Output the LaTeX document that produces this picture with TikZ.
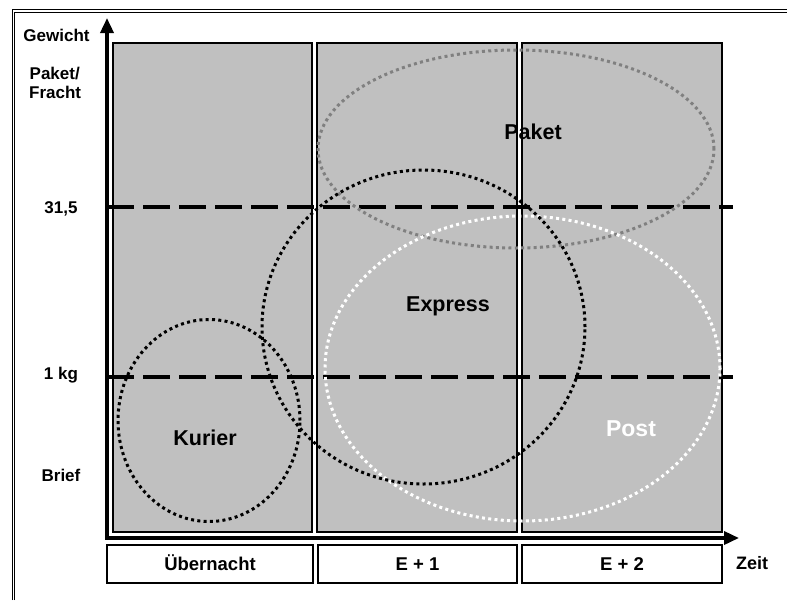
\documentclass[tikz,border=0pt]{standalone}
\usepackage{fontspec}
\setmainfont{Liberation Sans}
\usetikzlibrary{arrows.meta,shapes.geometric}
\definecolor{panelgray}{HTML}{C0C0C0}
\definecolor{zonegray}{HTML}{808080}

\begin{document}
\begin{tikzpicture}[x=1pt,y=-1pt,
  panel/.style={draw=black,line width=1.4pt,fill=panelgray,inner sep=0pt,outer sep=0pt},
  timebox/.style={draw=black,line width=1.4pt,fill=white,inner sep=0pt,outer sep=0pt,
    minimum height=38pt,font=\fontsize{18.5}{22}\selectfont\bfseries,text height=13.2pt,text depth=0pt},
  axis/.style={line width=3.5pt,line join=miter,
    {Triangle[length=15pt,width=13pt]}-{Triangle[length=15pt,width=13pt]}},
  limit/.style={line width=4.2pt,dash pattern=on 27pt off 9pt},
  zone/.style={ellipse,inner sep=0pt,outer sep=0pt,line width=3pt,dash pattern=on 3pt off 3.3pt},
  axislabel/.style={font=\fontsize{17}{20}\selectfont\bfseries,inner sep=0pt,text height=12.2pt,text depth=0pt},
  zonelabel/.style={font=\fontsize{21.5}{24}\selectfont\bfseries,inner sep=0pt,text height=15.4pt,text depth=0pt}]

\useasboundingbox (0,0) rectangle (787,600);

% outer double frame
\draw[line width=0.9pt] (12,600) -- (12,9.5) -- (787,9.5);
\draw[line width=0.9pt] (14.5,600) -- (14.5,12) -- (787,12);

% time columns
\node[panel,minimum width=199pt,minimum height=489pt] (col1) at (212.5,287.5) {};
\node[panel,minimum width=200pt,minimum height=489pt] (col2) at (417,287.5) {};
\node[panel,minimum width=200pt,minimum height=489pt] (col3) at (622,287.5) {};

% weight limits
\coordinate (w31l) at (107,207);
\coordinate (w31r) at (733,207);
\coordinate (w1l) at (107,377);
\coordinate (w1r) at (733,377);
\draw[limit] (w31l) -- (w31r);
\draw[limit] (w1l) -- (w1r);

% service zones
\node[zone,draw=zonegray,minimum width=396pt,minimum height=198pt] (paketzone) at (516,149) {};
\node[zone,draw=white,minimum width=395pt,minimum height=305pt] (postzone) at (522.5,368.5) {};
\node[zone,draw=black,minimum width=323pt,minimum height=314pt] (expresszone) at (423.5,327) {};
\node[zone,draw=black,minimum width=182pt,minimum height=202pt] (kurierzone) at (209,420.5) {};

\node[zonelabel] (paketlbl) at (533,132) {Paket};
\node[zonelabel] (expresslbl) at (448,304) {Express};
\node[zonelabel] (kurierlbl) at (205,438) {Kurier};
\node[zonelabel,text=white,font=\fontsize{23}{26}\selectfont\bfseries,text height=16.5pt] (postlbl) at (631,428) {Post};

% axes
\coordinate (ytip) at (107,18);
\coordinate (origin) at (107,538);
\coordinate (xtip) at (739,538);
\draw[axis] (ytip) -- (origin) -- (xtip);

% weight axis labels
\node[axislabel] (gewicht) at (56.5,35) {Gewicht};
\node[axislabel,anchor=west] (paketax) at (29.5,73.5) {Paket/};
\node[axislabel,anchor=west] (frachtax) at (29,92) {Fracht};
\node[axislabel] (w31lbl) at (61,207) {31,5};
\node[axislabel] (w1lbl) at (61,373) {1 kg};
\node[axislabel] (brieflbl) at (61,475) {Brief};

% time axis
\node[timebox,minimum width=206pt] (tnight) at (210,564) {Übernacht};
\node[timebox,minimum width=199pt] (tone) at (417.5,564) {E + 1};
\node[timebox,minimum width=200pt] (ttwo) at (622,564) {E + 2};
\node[axislabel,font=\fontsize{18}{21}\selectfont\bfseries,text height=12.9pt] (zeit) at (752,563) {Zeit};

\end{tikzpicture}
\end{document}
